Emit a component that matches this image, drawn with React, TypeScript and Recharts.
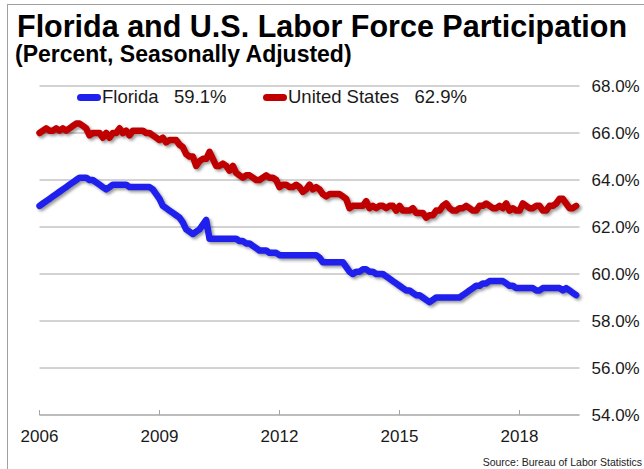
import { CartesianGrid, Legend, Line, LineChart, XAxis, YAxis } from "recharts";

// monthly, Jan 2006 .. Jun 2019
const florida = [
  62.9, 63.0, 63.1, 63.2, 63.3, 63.4, 63.5, 63.6, 63.7, 63.8, 63.9, 64.0, // 2006
  64.1, 64.1, 64.1, 64.0, 64.0, 63.9, 63.8, 63.7, 63.6, 63.7, 63.8, 63.8, // 2007
  63.8, 63.8, 63.8, 63.7, 63.7, 63.7, 63.7, 63.7, 63.7, 63.7, 63.6, 63.4, // 2008
  63.2, 62.9, 62.8, 62.7, 62.6, 62.5, 62.4, 62.2, 61.9, 61.8, 61.7, 61.8, // 2009
  61.9, 62.1, 62.3, 61.5, 61.5, 61.5, 61.5, 61.5, 61.5, 61.5, 61.5, 61.5, // 2010
  61.4, 61.4, 61.3, 61.3, 61.2, 61.1, 61.0, 61.0, 61.0, 60.9, 60.9, 60.9, // 2011
  60.8, 60.8, 60.8, 60.8, 60.8, 60.8, 60.8, 60.8, 60.8, 60.8, 60.8, 60.8, // 2012
  60.7, 60.5, 60.5, 60.5, 60.5, 60.5, 60.5, 60.5, 60.3, 60.1, 60.0, 60.1, // 2013
  60.1, 60.2, 60.2, 60.1, 60.1, 60.0, 60.0, 60.0, 59.9, 59.8, 59.7, 59.6, // 2014
  59.5, 59.4, 59.3, 59.3, 59.2, 59.1, 59.1, 59.0, 58.9, 58.8, 58.9, 59.0, // 2015
  59.0, 59.0, 59.0, 59.0, 59.0, 59.0, 59.0, 59.1, 59.2, 59.3, 59.4, 59.5, // 2016
  59.5, 59.6, 59.6, 59.7, 59.7, 59.7, 59.7, 59.7, 59.6, 59.5, 59.5, 59.4, // 2017
  59.4, 59.4, 59.4, 59.4, 59.4, 59.3, 59.3, 59.4, 59.4, 59.4, 59.4, 59.4, // 2018
  59.4, 59.3, 59.4, 59.3, 59.2, 59.1, // 2019
];

const unitedStates = [
  66.0, 66.1, 66.2, 66.1, 66.1, 66.2, 66.1, 66.2, 66.1, 66.2, 66.3, 66.4, // 2006
  66.4, 66.3, 66.2, 65.9, 66.0, 66.0, 66.0, 65.8, 66.0, 65.8, 66.0, 66.0, // 2007
  66.2, 66.0, 66.1, 65.9, 66.1, 66.1, 66.1, 66.1, 66.0, 66.0, 65.9, 65.8, // 2008
  65.7, 65.8, 65.6, 65.7, 65.7, 65.7, 65.5, 65.4, 65.1, 65.0, 65.0, 64.6, // 2009
  64.8, 64.9, 64.9, 65.2, 64.9, 64.6, 64.6, 64.7, 64.6, 64.4, 64.6, 64.3, // 2010
  64.2, 64.1, 64.2, 64.2, 64.1, 64.0, 64.0, 64.1, 64.2, 64.1, 64.1, 64.0, // 2011
  63.7, 63.8, 63.8, 63.7, 63.7, 63.8, 63.7, 63.5, 63.6, 63.8, 63.6, 63.7, // 2012
  63.6, 63.4, 63.3, 63.4, 63.4, 63.4, 63.4, 63.3, 63.2, 62.8, 62.9, 62.9, // 2013
  62.9, 62.9, 63.1, 62.8, 62.9, 62.8, 62.9, 62.9, 62.8, 62.9, 62.9, 62.7, // 2014
  62.9, 62.7, 62.7, 62.7, 62.8, 62.6, 62.6, 62.6, 62.4, 62.5, 62.5, 62.7, // 2015
  62.7, 62.9, 63.0, 62.8, 62.7, 62.7, 62.8, 62.8, 62.9, 62.8, 62.7, 62.7, // 2016
  62.9, 62.9, 63.0, 62.9, 62.8, 62.8, 62.9, 62.8, 63.0, 62.7, 62.8, 62.7, // 2017
  62.7, 63.0, 62.9, 62.8, 62.8, 62.9, 62.9, 62.7, 62.7, 62.9, 62.9, 63.0, // 2018
  63.2, 63.2, 63.0, 62.8, 62.8, 62.9, // 2019
];

const yearTicks = [0, 36, 72, 108, 144];
const yearLabels = ["2006", "2009", "2012", "2015", "2018"];
const pctTicks = [54, 56, 58, 60, 62, 64, 66, 68];

const data = florida.map((fl, i) => ({ m: i, florida: fl, us: unitedStates[i] }));

const latest: Record<string, number> = {
  florida: florida[florida.length - 1],
  us: unitedStates[unitedStates.length - 1],
};

const FONT = "'Liberation Sans', Arial, sans-serif";
const GRID = "#a6a6a6";
const TICK_GAP = 15;

function YearTick({ x, y, index }: any) {
  return (
    <g>
      <line x1={x} x2={x} y1={y - TICK_GAP} y2={y - TICK_GAP - 5} stroke={GRID} />
      <text x={x} y={y} dy="0.71em" textAnchor="middle" fontSize={17} fill="#1a1a1a" fontFamily={FONT}>
        {yearLabels[index]}
      </text>
    </g>
  );
}

function LegendBox({ payload }: any) {
  return (
    <div style={{ display: "flex", paddingLeft: 77, fontFamily: FONT }}>
      {(payload || []).map((p: any, i: number) => (
        <div key={p.value} style={{ display: "flex", alignItems: "center", width: i === 0 ? 186 : undefined }}>
          <span style={{ width: 24, height: 7, borderRadius: 4, background: p.color, display: "inline-block" }} />
          <span style={{ whiteSpace: "pre", fontSize: 18.5, color: "#1a1a1a", marginLeft: 1, lineHeight: "22px" }}>
            {p.value}   {latest[p.dataKey].toFixed(1)}%
          </span>
        </div>
      ))}
    </div>
  );
}

export default function App() {
  return (
    <div
      style={{
        position: "fixed",
        left: 0,
        top: 0,
        width: 644,
        height: 469,
        overflow: "hidden",
        background: "#fff",
        fontFamily: FONT,
      }}
    >
      <style>{`.lfp .recharts-line-curve{filter:drop-shadow(2px 2px 1.5px rgba(0,0,0,0.4));}`}</style>
      <div style={{ position: "absolute", left: 7, top: 4, width: 800, height: 600, border: "1px solid #a0a0a0" }} />
      <div style={{ position: "absolute", left: 17, top: 11, fontSize: 30.5, lineHeight: "30px", fontWeight: "bold", color: "#000", whiteSpace: "nowrap" }}>
        Florida and U.S. Labor Force Participation
      </div>
      <div style={{ position: "absolute", left: 15, top: 43, fontSize: 23, lineHeight: "23px", fontWeight: "bold", color: "#000", whiteSpace: "nowrap" }}>
        (Percent, Seasonally Adjusted)
      </div>
      <div style={{ position: "absolute", right: 2, top: 455, fontSize: 10.5, lineHeight: "14px", color: "#222", whiteSpace: "nowrap" }}>
        Source: Bureau of Labor Statistics
      </div>
      <div className="lfp" style={{ position: "absolute", left: 0, top: 0 }}>
        <LineChart width={644} height={469} data={data} margin={{ top: 86, right: 4.5, bottom: 14, left: 39.5 }}>
          <CartesianGrid vertical={false} stroke={GRID} />
          <XAxis
            dataKey="m"
            type="number"
            domain={[0, 162]}
            ticks={yearTicks}
            interval={0}
            height={40}
            tickSize={0}
            tickMargin={TICK_GAP}
            tickLine={false}
            axisLine={{ stroke: GRID }}
            tick={<YearTick />}
          />
          <YAxis
            orientation="right"
            domain={[54, 68]}
            ticks={pctTicks}
            interval={0}
            width={60}
            tickSize={0}
            tickMargin={12}
            tickLine={false}
            axisLine={false}
            tickFormatter={(v: number) => `${v.toFixed(1)}%`}
            tick={{ fill: "#1a1a1a", fontSize: 17, fontFamily: FONT, textAnchor: "start" }}
          />
          <Legend
            layout="horizontal"
            verticalAlign="middle"
            align="center"
            content={<LegendBox />}
            wrapperStyle={{ position: "absolute", top: 86, left: 0, width: 644, height: 22 }}
          />
          <Line
            dataKey="florida"
            name="Florida"
            type="linear"
            stroke="#2020ee"
            strokeWidth={6.5}
            strokeLinejoin="round"
            strokeLinecap="round"
            dot={false}
            activeDot={false}
            isAnimationActive={false}
          />
          <Line
            dataKey="us"
            name="United States"
            type="linear"
            stroke="#c00000"
            strokeWidth={6.5}
            strokeLinejoin="round"
            strokeLinecap="round"
            dot={false}
            activeDot={false}
            isAnimationActive={false}
          />
        </LineChart>
      </div>
    </div>
  );
}
